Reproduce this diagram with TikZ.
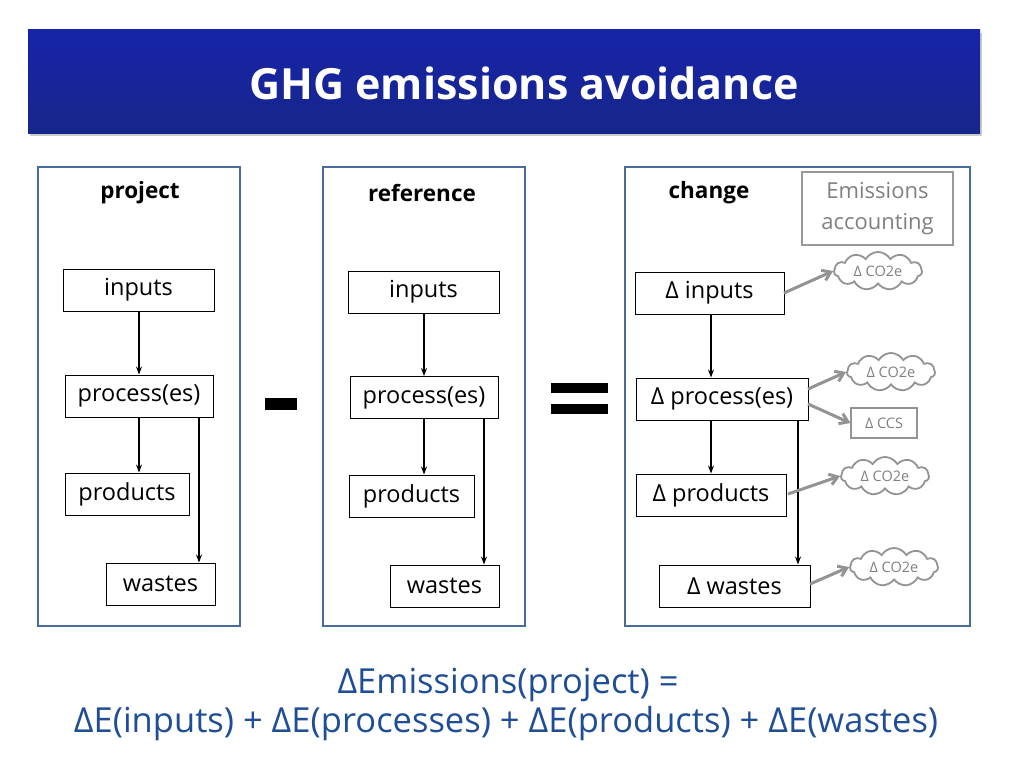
\documentclass[tikz,border=0pt]{standalone}
\usepackage{fontspec}
\setmainfont{Open Sans}
\usetikzlibrary{shapes.symbols,arrows.meta,shadows}
\definecolor{frame}{HTML}{4A6C9B}
\definecolor{ttl}{HTML}{1A2A9A}
\definecolor{fml}{HTML}{1F4E96}
\begin{document}
\begin{tikzpicture}[x=1pt,y=-1pt,
 panel/.style={draw=frame,line width=1.6pt},
 box/.style={draw=black,line width=1pt,font=\fontsize{23.5}{26}\selectfont,inner sep=0pt},
 head/.style={font=\bfseries\fontsize{22.5}{26}\selectfont},
 flow/.style={-{Stealth[length=8pt,width=6pt]},line width=1.2pt},
 gflow/.style={-{Straight Barb[length=8pt,width=11pt]},line width=3pt,draw=gray!85},
 co/.style={cloud,cloud puffs=11,cloud puff arc=120,aspect=2.6,draw=gray!85,line width=1.8pt,text=gray,font=\fontsize{14.5}{16}\selectfont,inner sep=1pt,minimum width=88pt,minimum height=34pt}]
\useasboundingbox (0,0) rectangle (1024,768);
\fill[white] (0,0) rectangle (1024,768);
\shade[top color=ttl!85!blue,bottom color=ttl!90!black,drop shadow={opacity=0.4,shadow xshift=2pt,shadow yshift=-3pt}] (28,30) rectangle (980,133);
\node[text=white,font=\bfseries\fontsize{43}{48}\selectfont] (title) at (524,83) {GHG emissions avoidance};
% panels
\draw[panel] (38,167) rectangle (240,626);
\draw[panel] (323,167) rectangle (525,626);
\draw[panel] (625,167) rectangle (970,626);
\node[head] (h1) at (140,193) {project};
\node[head] (h2) at (422,193) {reference};
\node[head] (h3) at (709,193) {change};
% project
\node[box,minimum width=151pt,minimum height=42pt] (pi) at (138.5,290) {inputs};
\node[box,minimum width=148pt,minimum height=42pt] (pp) at (139,396) {process(es)};
\node[box,minimum width=124pt,minimum height=42pt] (pr) at (127,494) {products};
\node[box,minimum width=109pt,minimum height=42pt] (pw) at (160.5,584) {wastes};
\draw[flow] (pi.south -| 139,0) -- (pp.north -| 139,0);
\draw[flow] (pp.south -| 139,0) -- (pr.north -| 139,0);
\draw[flow] (pp.south -| 199,0) -- (pw.north -| 199,0);
% reference
\node[box,minimum width=151pt,minimum height=42pt] (ri) at (423.5,292) {inputs};
\node[box,minimum width=148pt,minimum height=42pt] (rp) at (424,397.5) {process(es)};
\node[box,minimum width=125pt,minimum height=42pt] (rr) at (411.5,496) {products};
\node[box,minimum width=109pt,minimum height=42pt] (rw) at (444.5,586) {wastes};
\draw[flow] (ri.south -| 424,0) -- (rp.north -| 424,0);
\draw[flow] (rp.south -| 424,0) -- (rr.north -| 424,0);
\draw[flow] (rp.south -| 484,0) -- (rw.north -| 484,0);
% change
\node[box,minimum width=149pt,minimum height=42pt] (ci) at (709.5,293) {Δ inputs};
\node[box,minimum width=172pt,minimum height=42pt] (cp) at (722,399) {Δ process(es)};
\node[box,minimum width=150pt,minimum height=42pt] (cr) at (711,495) {Δ products};
\node[box,minimum width=151pt,minimum height=42pt] (cw) at (734.5,586) {Δ wastes};
\draw[flow] (ci.south -| 711,0) -- (cp.north -| 711,0);
\draw[flow] (cp.south -| 711,0) -- (cr.north -| 711,0);
\draw[flow] (cp.south -| 798,0) -- (cw.north -| 798,0);
% emissions accounting
\node[draw=gray!80,line width=1.5pt,text=gray,minimum width=151pt,minimum height=73pt,align=center,font=\fontsize{22}{31}\selectfont] (ea) at (877.5,208.5) {Emissions\\accounting};
\node[co] (c1) at (878,271) {Δ CO2e};
\node[co] (c2) at (891,372) {Δ CO2e};
\node[co] (c3) at (885,476) {Δ CO2e};
\node[co] (c4) at (894,567) {Δ CO2e};
\node[draw=gray!85,line width=1.3pt,text=gray,minimum width=66pt,minimum height=30pt,inner sep=0pt,font=\fontsize{14.5}{16}\selectfont] (ccs) at (884,423) {Δ CCS};
\coordinate (a1) at (784,293); \coordinate (a2) at (808,389); \coordinate (a3) at (808,404);
\coordinate (a4) at (788,494); \coordinate (a5) at (810,584);
\draw[gflow] (a1) -- (c1.west);
\draw[gflow] (a2) -- (c2.west);
\draw[gflow] (a3) -- (ccs.west);
\draw[gflow] (a4) -- (c3.west);
\draw[gflow] (a5) -- (c4.west);
% operators
\fill (265,398) rectangle (297,410);
\fill (551,383) rectangle (608,393);
\fill (551,404) rectangle (608,414);
% formula
\node[text=fml,font=\fontsize{34.5}{40}\selectfont] (f1) at (508,685) {ΔEmissions(project) =};
\node[text=fml,font=\fontsize{34.5}{40}\selectfont] (f2) at (506,724) {ΔE(inputs) + ΔE(processes) + ΔE(products) + ΔE(wastes)};
\end{tikzpicture}
\end{document}
